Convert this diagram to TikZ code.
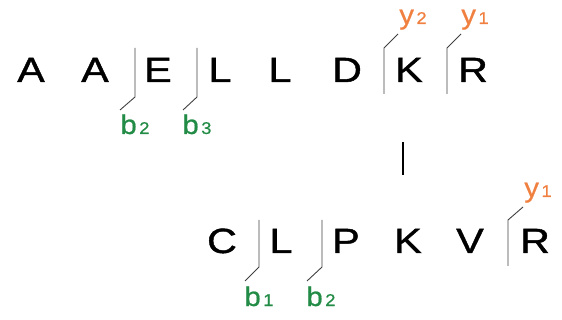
\documentclass[tikz,border=0pt]{standalone}
\usepackage{fontspec}
\setmainfont{Liberation Sans}
\newfontfamily\seqfont{Liberation Sans}[FakeStretch=1.18,FakeBold=1.2]
\newfontfamily\labfont{Liberation Sans}[FakeStretch=1.08,FakeBold=0.6]
\usepackage{xcolor}
\usetikzlibrary{positioning}
\definecolor{brkgreen}{RGB}{34,139,69}
\definecolor{ptorange}{RGB}{240,128,64}
\newcommand{\sublab}[2]{#1\hspace{2.5pt}{\fontsize{17}{17}\selectfont #2}}

\begin{document}
\begin{tikzpicture}[
  x=1pt, y=-1pt,
  res/.style={font=\seqfont\fontsize{35}{35}\selectfont, anchor=base, inner sep=0pt},
  cut/.style={draw=black!75, line width=0.9pt},
  blab/.style={text=brkgreen, anchor=base, inner sep=0pt, font=\labfont\fontsize{27}{27}\selectfont},
  ylab/.style={text=ptorange, anchor=base, inner sep=0pt, font=\labfont\fontsize{27}{27}\selectfont}
]
  \useasboundingbox (0,0) rectangle (562,320);
  % upper sequence
  \foreach \ch/\x [count=\i] in {A/31,A/95,E/158,L/220,L/280,D/347,K/409,R/473}
    \node[res] (s\i) at (\x,82) {\ch};
  % lower sequence
  \foreach \ch/\x [count=\i] in {C/222,L/281,P/346,K/408,V/470,R/535}
    \node[res] (q\i) at (\x,253) {\ch};

  % cuts below the upper sequence
  \draw[cut] (135,48) -- (135,97) -- (120,110);
  \node[blab] (sb2) at (135,134) {\sublab{b}{2}};
  \draw[cut] (197,48) -- (197,97) -- (183,110);
  \node[blab] (sb3) at (197,134) {\sublab{b}{3}};
  % cuts above the upper sequence
  \draw[cut] (398,34) -- (384,48) -- (384,94);
  \node[ylab] (sy2) at (413,24) {\sublab{y}{2}};
  \draw[cut] (461,34) -- (447,48) -- (447,94);
  \node[ylab] (sy1) at (475,24) {\sublab{y}{1}};

  \draw[line width=2pt] (403,142) -- (403,175);

  % cuts of the lower sequence
  \draw[cut] (259,220) -- (259,267) -- (245,281);
  \node[blab] (qb1) at (259,306) {\sublab{b}{1}};
  \draw[cut] (322,220) -- (322,267) -- (307,281);
  \node[blab] (qb2) at (321,306) {\sublab{b}{2}};
  \draw[cut] (523,207) -- (508,220) -- (508,266);
  \node[ylab] (qy1) at (538,197) {\sublab{y}{1}};
\end{tikzpicture}
\end{document}
